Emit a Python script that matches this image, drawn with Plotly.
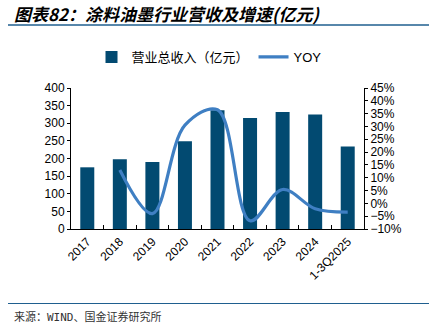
import plotly.graph_objects as go

categories = ["2017", "2018", "2019", "2020", "2021", "2022", "2023", "2024", "1-3Q2025"]
revenue = [175, 198, 190, 249, 337, 315, 332, 325, 234]
yoy_cats = ["2018", "2019", "2020", "2021", "2022", "2023", "2024", "1-3Q2025"]
yoy = [13.0, -4.0, 30.5, 36.5, -6.8, 5.4, -2.1, -3.4]

bar_color = "#024a71"
line_color = "#3f7fc3"
font_fam = "Liberation Sans, Arial, sans-serif"
cjk = "Noto Sans CJK SC"

fig = go.Figure()
fig.add_trace(go.Bar(x=categories, y=revenue, name="营业总收入（亿元）",
                     marker=dict(color=bar_color, line=dict(width=0)), width=0.43))
fig.add_trace(go.Scatter(x=yoy_cats, y=yoy, name="YOY", yaxis="y2", mode="lines",
                         line=dict(color=line_color, width=3.2, shape="spline", smoothing=1.0)))

fig.update_layout(
    width=429, height=323,
    margin=dict(l=71, r=65, t=88, b=94),
    paper_bgcolor="white", plot_bgcolor="white",
    font=dict(family=font_fam, size=12, color="black"),
    showlegend=True,
    legend=dict(orientation="h", x=0.07, y=1.22, xanchor="left", yanchor="middle",
                font=dict(family=font_fam + ", " + cjk, size=13), itemwidth=30,
                bgcolor="rgba(0,0,0,0)", tracegroupgap=0),
    bargap=0.57,
    xaxis=dict(type="category", showline=True, linecolor="black", linewidth=1,
               ticks="inside", tickson="boundaries", ticklen=4, tickcolor="black",
               tickangle=-45, showgrid=False, tickfont=dict(size=12)),
    yaxis=dict(range=[0, 400], dtick=50, showline=True, linecolor="black", linewidth=1,
               ticks="outside", ticklen=3, tickcolor="black", showgrid=False, zeroline=False,
               tickfont=dict(size=12)),
    yaxis2=dict(range=[-10, 45], dtick=5, overlaying="y", side="right", ticksuffix="%",
                showline=True, linecolor="black", linewidth=1, ticks="outside", ticklen=3,
                tickcolor="black", showgrid=False, zeroline=False, tickfont=dict(size=12)),
    shapes=[
        dict(type="line", xref="paper", yref="paper", x0=-0.215, x1=1.222,
             y0=(229 - 25) / 141, y1=(229 - 25) / 141,
             line=dict(color="#1f5f8f", width=1.5)),
        dict(type="line", xref="paper", yref="paper", x0=-0.215, x1=1.222,
             y0=(229 - 303.5) / 141, y1=(229 - 303.5) / 141,
             line=dict(color="#1f5f8f", width=1.2)),
    ],
    annotations=[
        dict(text="<i>图表82：涂料油墨行业营收及增速(亿元)</i>", xref="paper", yref="paper",
             x=(12 - 71) / 293, y=(229 - 14) / 141, xanchor="left", yanchor="middle",
             showarrow=False, font=dict(family=cjk, size=17, color="black", weight=600)),
        dict(text="来源：WIND、国金证券研究所", xref="paper", yref="paper",
             x=(12 - 71) / 293, y=(229 - 316.5) / 141, xanchor="left", yanchor="middle",
             showarrow=False, font=dict(family="DejaVu Sans Mono, " + cjk, size=11, color="#333333")),
    ],
)

fig.write_html("out.html")
